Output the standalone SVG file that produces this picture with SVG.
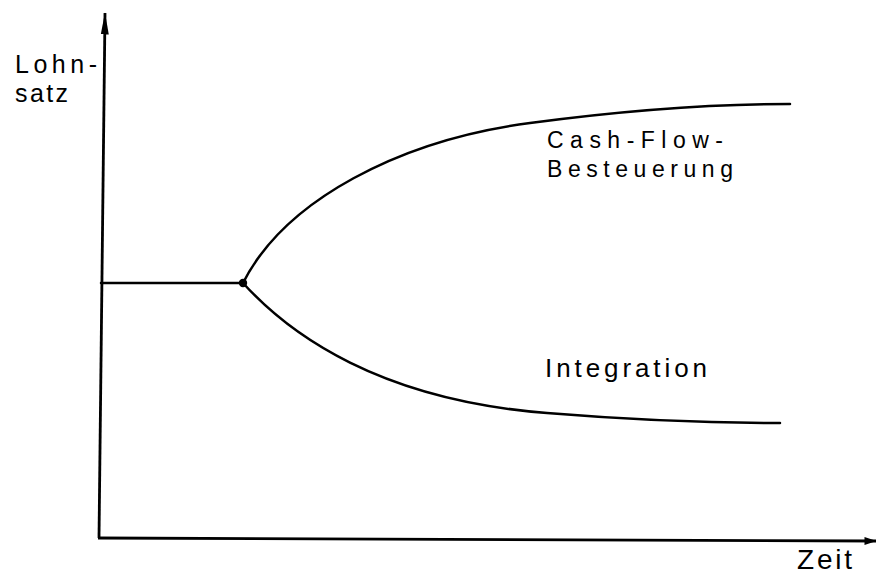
<svg xmlns="http://www.w3.org/2000/svg" width="877" height="576" viewBox="0 0 877 576">
  <defs>
    <style>
      .axis { stroke: #000; stroke-width: 2.8; fill: none; }
      .curve { stroke: #000; stroke-width: 2.5; fill: none; stroke-linecap: round; }
      .lbl { font-family: "Liberation Sans", Arial, sans-serif; fill: #000; }
    </style>
    <marker id="arrow" markerWidth="12" markerHeight="9" refX="11.5" refY="4.5" orient="auto" markerUnits="userSpaceOnUse">
      <path d="M0,0.5 L12,4.5 L0,8.5 Z" fill="#000"/>
    </marker>
    <marker id="arrowLong" markerWidth="22" markerHeight="9" refX="21.5" refY="4.5" orient="auto" markerUnits="userSpaceOnUse">
      <path d="M0,0.5 L22,4.5 L0,8.5 Z" fill="#000"/>
    </marker>
  </defs>

  <rect width="877" height="576" fill="#fff"/>

  <!-- axes -->
  <g id="axes">
    <line class="axis" x1="99" y1="538" x2="105" y2="13" marker-end="url(#arrowLong)"/>
    <line class="axis" x1="98" y1="538" x2="876" y2="541" marker-end="url(#arrow)"/>
  </g>

  <!-- wage paths -->
  <g id="connectors">
    <path id="before" class="curve" d="M101,283 L243,283"/>
    <path id="cashflow" class="curve" d="M243,283 C285,200 400,140 530,123 C620,111 700,104 790,104"/>
    <path id="integration" class="curve" d="M243,283 C290,335 380,400 547,413 C620,419 700,423 780,423"/>
  </g>

  <g id="branch-point">
    <circle cx="243" cy="283" r="4.2" fill="#000"/>
  </g>

  <!-- labels -->
  <g id="label-y">
    <text class="lbl" x="15" y="73" font-size="25" textLength="82" lengthAdjust="spacing">Lohn-</text>
    <text class="lbl" x="15" y="102" font-size="25" textLength="53" lengthAdjust="spacing">satz</text>
  </g>
  <g id="label-x">
    <text class="lbl" x="797" y="569" font-size="28" textLength="55" lengthAdjust="spacing">Zeit</text>
  </g>
  <g id="label-cashflow">
    <text class="lbl" x="547" y="148" font-size="23" textLength="176" lengthAdjust="spacing">Cash-Flow-</text>
    <text class="lbl" x="547" y="177" font-size="23" textLength="186" lengthAdjust="spacing">Besteuerung</text>
  </g>
  <g id="label-integration">
    <text class="lbl" x="545" y="377" font-size="26" textLength="162" lengthAdjust="spacing">Integration</text>
  </g>
</svg>
